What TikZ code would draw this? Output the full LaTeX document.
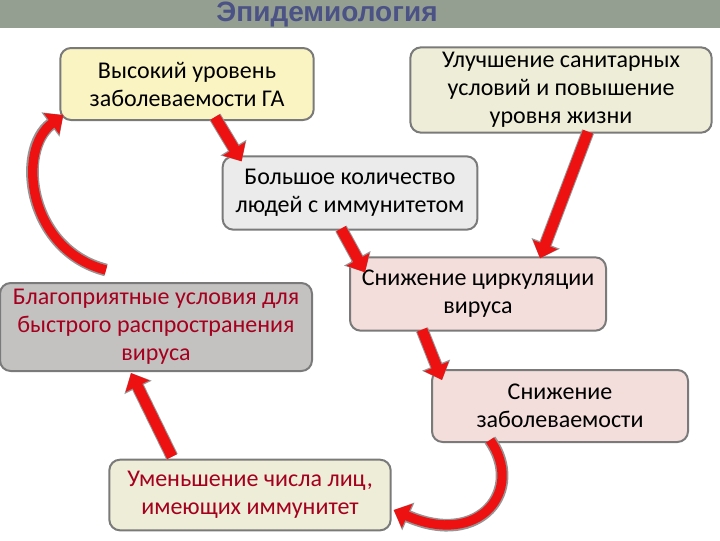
\documentclass[tikz,border=0pt]{standalone}
\usepackage{fontspec}
\setmainfont{Carlito}
\newfontfamily\titlefont{Liberation Sans}
\usetikzlibrary{arrows.meta,calc}

\definecolor{bandgray}{HTML}{959F91}
\definecolor{titleblue}{HTML}{4B5285}
\definecolor{edgegray}{HTML}{7A7A7A}
\definecolor{fillyellow}{HTML}{FAF3C2}
\definecolor{fillbeige}{HTML}{EEEDD8}
\definecolor{filllight}{HTML}{EBEBEB}
\definecolor{fillgray}{HTML}{C4C1C1}
\definecolor{fillpink}{HTML}{F3DEDB}
\definecolor{textred}{HTML}{A5001E}
\definecolor{arrowred}{HTML}{EE1111}

\begin{document}
\begin{tikzpicture}[x=0.75pt,y=-0.75pt,
    box/.style={draw=edgegray, line width=1.5pt, rounded corners=8pt,
        align=center, inner sep=0pt, font=\fontsize{18}{21}\selectfont},
    fatarrow/.style={arrowred, line width=8pt, -{Triangle[length=11pt,width=19pt]},
        preaction={draw=edgegray!80, line width=9.5pt, -{Triangle[length=12pt,width=22pt]}}},
    bentarrow/.style={fatarrow, line width=7pt}]
    \useasboundingbox (0,0) rectangle (720,540);
    % header
    \fill[bandgray] (0,0) rectangle (720,28);
    \node[anchor=base, text=titleblue, font=\titlefont\bfseries\fontsize{21}{24}\selectfont] (title) at (327,21) {Эпидемиология};

    % boxes
    \node[box, fill=fillyellow, minimum width=190pt, minimum height=54pt] (high) at (187,84) {Высокий уровень\\заболеваемости ГА};
    \node[box, fill=fillbeige, minimum width=226pt, minimum height=64pt] (sanit) at (561,90) {Улучшение санитарных\\условий и повышение\\уровня жизни};
    \node[box, fill=filllight, minimum width=191pt, minimum height=55pt] (immune) at (350,193) {Большое количество\\людей с иммунитетом};
    \node[box, fill=fillgray, text=textred, minimum width=234pt, minimum height=66pt] (favour) at (156,327) {Благоприятные условия для\\быстрого распространения\\вируса};
    \node[box, fill=fillpink, minimum width=192pt, minimum height=55pt] (circ) at (478,294) {Снижение циркуляции\\вируса};
    \node[box, fill=fillpink, minimum width=192pt, minimum height=54pt] (morb) at (560,406) {Снижение\\заболеваемости};
    \node[box, fill=fillbeige, text=textred, minimum width=211pt, minimum height=53pt] (fewer) at (250,495) {Уменьшение числа лиц,\\имеющих иммунитет};

    % arrows
    \draw[fatarrow] ($(high.south)+(28,-4)$) -- ($(immune.north west)+(20,6)$);
    \draw[fatarrow] ($(sanit.south)+(27,-2)$) -- ($(circ.north)+(62,2)$);
    \draw[fatarrow] ($(immune.south)+(-9,-2)$) -- ($(circ.north west)+(16,16)$);
    \draw[fatarrow] ($(circ.south)+(-56,-2)$) -- ($(morb.north west)+(11,11)$);
    \draw[bentarrow] ($(morb.south)+(-70,-3)$) .. controls (525,490) and (480,548) .. ($(fewer.east)+(2,15)$);
    \draw[fatarrow] ($(fewer.north)+(-78,-2)$) -- ($(favour.south)+(-25,1)$);
    \draw[bentarrow] ($(favour.north)+(-50,-12)$) .. controls (28,250) and (16,150) .. ($(high.south west)+(4,-6)$);
\end{tikzpicture}
\end{document}
